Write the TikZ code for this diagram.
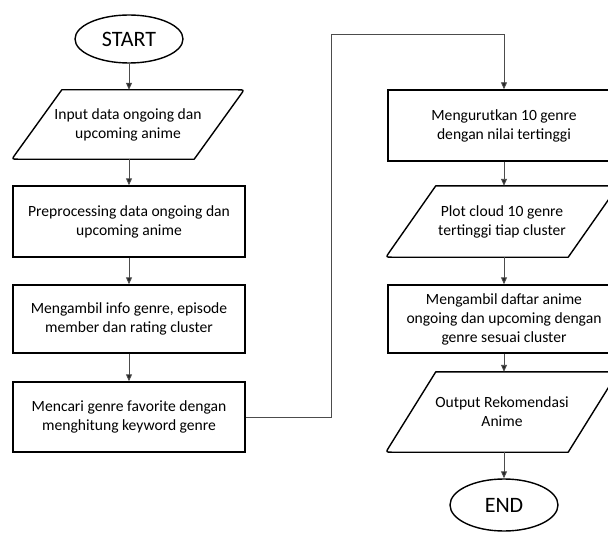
\documentclass[tikz,border=0pt]{standalone}
\usepackage{fontspec}
\setmainfont{Carlito}
\usetikzlibrary{arrows.meta,calc,shapes.geometric}
\tikzset{
  box/.style={draw=black,line width=1.4pt,minimum width=232pt,minimum height=#1,align=center,inner sep=0pt,
    font=\fontsize{15.6pt}{19pt}\selectfont},
  box/.default=70pt,
  pbox/.style={minimum width=232pt,minimum height=#1,align=center,inner sep=0pt,
    font=\fontsize{15.6pt}{19pt}\selectfont},
  pbox/.default=70pt,
  term/.style={draw=black,line width=1.4pt,ellipse,minimum width=108pt,minimum height=#1,inner sep=0pt,
    font=\fontsize{22pt}{24pt}\selectfont},
  conn/.style={draw=black!70,line width=0.9pt,-{Triangle[width=6pt,length=7pt,fill=black!85]}},
  pline/.style={draw=black,line width=1.4pt,line join=round}
}
\newcommand{\parashape}[1]{%
  \draw[pline] ($(#1.north west)+(50pt,0)$) --
    ($(#1.north east)+(-6pt,0)$) .. controls (#1.north east) .. ($(#1.north east)!6pt!($(#1.south east)+(-50pt,0)$)$) --
    ($(#1.south east)+(-50pt,0)$) --
    ($(#1.south west)+(6pt,0)$) .. controls (#1.south west) .. ($(#1.south west)!6pt!($(#1.north west)+(50pt,0)$)$) -- cycle;}
\begin{document}
\begin{tikzpicture}[x=1pt,y=-1pt]
\useasboundingbox (0,0) rectangle (608,535);
\clip (0,0) rectangle (608,535);
\fill[white] (0,0) rectangle (608,535);
% left column
\node[term=48pt] (start) at (129,39) {START};
\node[pbox=69pt] (in) at (128,124.5) {Input data ongoing dan\\upcoming anime};
\parashape{in}
\node[box=71pt] (pre) at (129,221.5) {Preprocessing data ongoing dan\\upcoming anime};
\node[box=68pt] (info) at (129,319) {Mengambil info genre, episode\\member dan rating cluster};
\node[box=70pt] (cari) at (129,417) {Mencari genre favorite dengan\\menghitung keyword genre};
% right column
\node[box=71pt] (urut) at (504,125.5) {Mengurutkan 10 genre\\dengan nilai tertinggi};
\node[pbox=71pt] (plot) at (502,221.5) {Plot cloud 10 genre\\tertinggi tiap cluster};
\parashape{plot}
\node[box=68pt] (daftar) at (504,319) {Mengambil daftar anime\\ongoing dan upcoming dengan\\genre sesuai cluster};
\node[pbox=80pt] (out) at (502,412) {Output Rekomendasi\\Anime};
\parashape{out}
\node[term=52pt] (end) at (504,505) {END};
% connectors
\draw[conn] (start.south) -- (start.south |- in.north);
\draw[conn] (in.south -| pre.north) -- (pre.north);
\draw[conn] (pre.south) -- (info.north);
\draw[conn] (info.south) -- (cari.north);
\coordinate (c1) at ($(cari.east)+(86,0)$);
\coordinate (c2) at ($(urut.north)+(0,-55)$);
\draw[conn] (cari.east) -- (c1) |- (c2) -- (urut.north);
\draw[conn] (urut.south) -- (urut.south |- plot.north);
\draw[conn] (urut.south |- plot.south) -- (daftar.north);
\draw[conn] (daftar.south) -- (daftar.south |- out.north);
\draw[conn] (daftar.south |- out.south) -- (end.north);
\end{tikzpicture}
\end{document}
